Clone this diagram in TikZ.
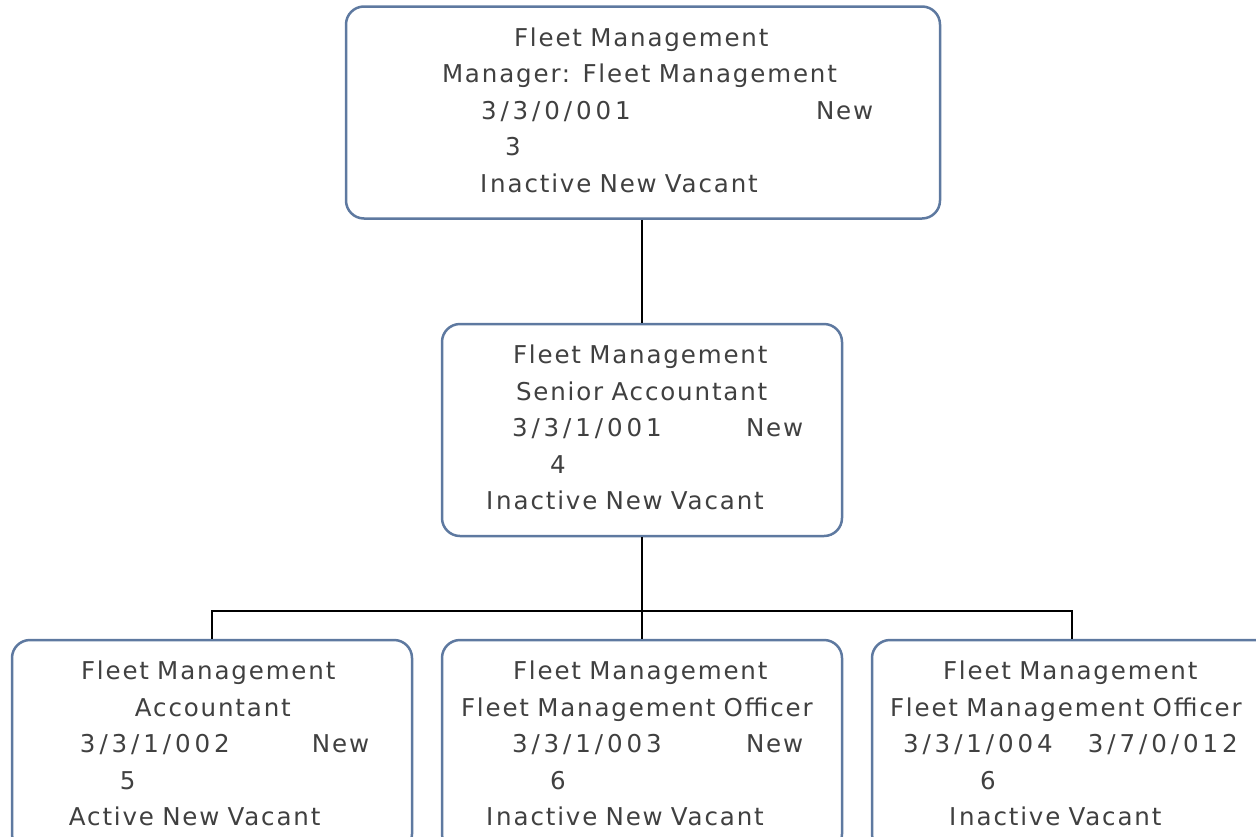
\documentclass[tikz,border=0pt]{standalone}
\usepackage{fontspec}
\setmainfont{DejaVu Sans}[LetterSpace=7.5]
\usepackage{xcolor}

\newlength\pxu
\setlength\pxu{0.75pt}
\definecolor{boxblue}{RGB}{94,121,160}
\definecolor{txtgrey}{RGB}{64,64,64}
\newcommand{\code}[1]{{\addfontfeature{LetterSpace=16}#1}}
\newcommand{\indentto}[2]{\hspace*{#1\pxu}#2}
\newcommand{\pairline}[4]{\hspace*{#1\pxu}\makebox[\dimexpr#3\pxu-#1\pxu\relax][l]{#2}#4}
\newcommand{\lastline}[2]{\hspace*{#1\pxu}#2\vphantom{g}}

\tikzset{
  posbox/.style={draw=boxblue, line width=2.5\pxu, rounded corners=18\pxu, inner sep=0pt,
    align=left, text width=#1, minimum height=212\pxu, text=txtgrey,
    font=\fontsize{18.4pt}{27.4pt}\selectfont},
  link/.style={draw=black, line width=2.5\pxu}
}

\begin{document}
\begin{tikzpicture}[x=0.75pt,y=-0.75pt]
		\path[use as bounding box, clip] (0,0) rectangle (1256,836);
		\node[posbox=594\pxu] (top) at (643,112.5) {\indentto{168}{Fleet Management}\\ \indentto{96}{Manager: Fleet Management}\\ \pairline{135}{\code{3/3/0/001}}{470}{New}\\ \indentto{159}{3}\\ \lastline{134}{I\kern3\pxu nactive New Vacant}};
		\node[posbox=400\pxu] (senior) at (642,430) {\indentto{71}{Fleet Management}\\ \indentto{74}{Senior Accountant}\\ \pairline{70}{\code{3/3/1/001}}{304}{New}\\ \indentto{108}{4}\\ \lastline{44}{I\kern3\pxu nactive New Vacant}};
		\node[posbox=400\pxu] (acct) at (212,746) {\indentto{69}{Fleet Management}\\ \indentto{123}{Accountant}\\ \pairline{68}{\code{3/3/1/002}}{300}{New}\\ \indentto{108}{5}\\ \lastline{57}{Active New Vacant}};
		\node[posbox=400\pxu] (officerA) at (642,746) {\indentto{71}{Fleet Management}\\ \indentto{19}{Fleet Management Officer}\\ \pairline{70}{\code{3/3/1/003}}{304}{New}\\ \indentto{108}{6}\\ \lastline{44}{I\kern3\pxu nactive New Vacant}};
		\node[posbox=400\pxu] (officerB) at (1072,746) {\indentto{71}{Fleet Management}\\ \indentto{18}{Fleet Management Officer}\\ \pairline{31}{\code{3/3/1/004}}{216}{\code{3/7/0/012}}\\ \indentto{108}{6}\\ \lastline{77}{I\kern3\pxu nactive Vacant}};
		\coordinate (bus) at (642,611);
		%
		\draw[link] (top.south -| senior.north) -- (senior.north);
		\draw[link] (senior) -- (bus);
		\draw[link] (acct.north) |- (bus) -| (officerB.north);
		\draw[link] (bus) -- (officerA.north);
\end{tikzpicture}
\end{document}
